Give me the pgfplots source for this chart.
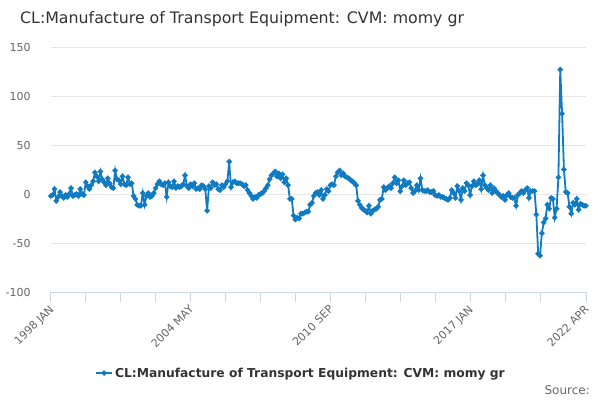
\documentclass[border=0pt]{standalone}
\usepackage{pgfplots}
\usepackage{pgfplotstable}
\pgfplotsset{compat=1.18}
\usepackage{fontspec}
\setmainfont{DejaVu Sans}
\definecolor{linec}{RGB}{16,122,194}
\definecolor{gridc}{RGB}{230,230,230}
\definecolor{axisc}{RGB}{204,214,235}
\definecolor{lblc}{RGB}{102,102,102}
\definecolor{ttlc}{RGB}{51,51,51}
\pgfplotstableread[row sep=\\]{
v\\
-2\\ -1\\ 5\\ -7\\ -3\\ 2\\ -2\\ -4\\ -1\\ -3\\
0\\ 6\\ -2\\ -1\\ 0\\ -2\\ 5\\ 0\\ -1\\ 12\\
8\\ 5\\ 9\\ 13\\ 22\\ 18\\ 13\\ 23\\ 15\\ 12\\
9\\ 16\\ 11\\ 7\\ 6\\ 24\\ 15\\ 14\\ 10\\ 18\\
10\\ 9\\ 17\\ 10\\ 11\\ -2\\ -5\\ -11\\ -12\\ -12\\
1\\ -11\\ -2\\ 1\\ -3\\ -2\\ 1\\ 6\\ 10\\ 13\\
10\\ 9\\ 11\\ -3\\ 12\\ 8\\ 7\\ 13\\ 6\\ 8\\
7\\ 8\\ 10\\ 19\\ 8\\ 6\\ 10\\ 8\\ 11\\ 5\\
6\\ 5\\ 9\\ 8\\ 5\\ -17\\ 8\\ 6\\ 12\\ 9\\
10\\ 5\\ 4\\ 9\\ 7\\ 10\\ 13\\ 33\\ 7\\ 12\\
13\\ 11\\ 11\\ 11\\ 10\\ 8\\ 9\\ 4\\ 1\\ -2\\
-5\\ -3\\ -4\\ -1\\ 0\\ 1\\ 3\\ 6\\ 9\\ 15\\
19\\ 21\\ 23\\ 18\\ 21\\ 16\\ 20\\ 12\\ 16\\ 9\\
-5\\ -5\\ -22\\ -26\\ -24\\ -25\\ -20\\ -20\\ -19\\ -18\\
-18\\ -11\\ -9\\ -2\\ 1\\ 2\\ -1\\ 4\\ -5\\ -1\\
5\\ 3\\ 9\\ 10\\ 9\\ 18\\ 22\\ 24\\ 19\\ 21\\
18\\ 17\\ 16\\ 14\\ 13\\ 11\\ 9\\ -7\\ -11\\ -14\\
-16\\ -17\\ -19\\ -12\\ -20\\ -17\\ -16\\ -15\\ -13\\ -6\\
-5\\ 7\\ 4\\ 6\\ 8\\ 6\\ 11\\ 17\\ 11\\ 14\\
3\\ 8\\ 14\\ 9\\ 11\\ 12\\ 6\\ 1\\ 3\\ 9\\
4\\ 16\\ 4\\ 3\\ 3\\ 4\\ 2\\ 2\\ 3\\ -1\\
-2\\ -1\\ -3\\ -3\\ -4\\ -5\\ -6\\ -4\\ 4\\ 1\\
-4\\ 8\\ 3\\ -6\\ 6\\ 3\\ 11\\ 9\\ -1\\ 8\\
13\\ 9\\ 10\\ 14\\ 5\\ 19\\ 9\\ 6\\ 4\\ 9\\
1\\ 6\\ 3\\ 1\\ -1\\ -3\\ -2\\ -6\\ -1\\ 1\\
-3\\ -4\\ -4\\ -12\\ -1\\ 1\\ 3\\ 1\\ 4\\ 6\\
-4\\ 3\\ 3\\ 3\\ -21\\ -61\\ -63\\ -40\\ -29\\ -25\\
-11\\ -15\\ -4\\ -5\\ -24\\ -15\\ 17\\ 127\\ 82\\ 25\\
2\\ 1\\ -13\\ -20\\ -9\\ -11\\ -5\\ -16\\ -10\\ -11\\
-12\\ -12\\
}\datatable
\begin{document}
\begin{tikzpicture}[x=1pt,y=1pt]
\path[use as bounding box] (0,0) rectangle (600,400);
\node[anchor=base west, font=\fontsize{15.8}{19}\selectfont, text=ttlc, inner sep=0pt] at (20,376) {CL:Manufacture of Transport Equipment: CVM: momy gr};
\node[anchor=base east, font=\fontsize{12}{14}\selectfont, text=lblc, inner sep=0pt] at (590,6) {Source:};
\begin{axis}[
  at={(50.8pt,108pt)}, anchor=south west,
  scale only axis, width=535.2pt, height=245pt,
  xmin=0, xmax=291, ymin=-100, ymax=150,
  axis x line*=bottom, axis y line*=left,
  y axis line style={draw=none},
  x axis line style={draw=axisc, line width=1pt, -},
  ytick={-100,-50,0,50,100,150},
  yticklabels={-100,-50,0,50,100,150},
  ymajorgrids, grid style={draw=gridc, line width=1pt},
  xtick={0,76,152,228,291},
  xticklabels={1998 JAN,2004 MAY,2010 SEP,2017 JAN,2022 APR},
  minor xtick={19,38,57,95,114,133,171,190,209,247,266},
  tick align=outside, major tick length=10pt, minor tick length=10pt,
  every tick/.style={draw=axisc, line width=1pt},
  ytick style={draw=none},
  tick label style={font=\fontsize{11}{13}\selectfont, text=lblc},
  xticklabel style={rotate=45, anchor=north east, inner sep=1pt, xshift=-2pt, yshift=1pt},
  yticklabel style={inner sep=1pt, xshift=-9pt},
  legend style={at={(0.4675,-0.331)}, anchor=center, draw=none, fill=none,
    font=\bfseries\fontsize{12.3}{14}\selectfont, text=ttlc},
  legend image code/.code={\draw[#1, mark repeat=2, mark phase=2] plot coordinates {(0pt,0pt) (8pt,0pt) (16pt,0pt)};},
  clip=false,
]
\addplot[color=linec, line width=1.8pt, mark=*, mark size=1.7pt, mark options={draw=none, fill=linec}]
  table[x expr=\coordindex, y=v] {\datatable};
\addlegendentry{CL:Manufacture of Transport Equipment: CVM: momy gr}
\end{axis}
\end{tikzpicture}
\end{document}
